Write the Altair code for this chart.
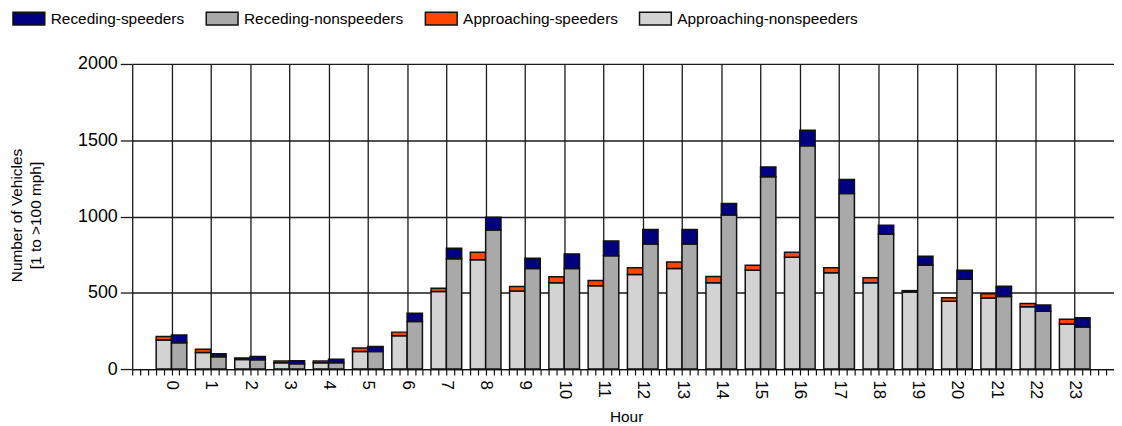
import altair as alt
import pandas as pd

# ---- data ----
hours = list(range(24))
approaching_nonspeeders = [190, 109, 62, 41, 41, 115, 219, 509, 716, 511, 566, 546,
                           620, 659, 565, 648, 733, 631, 565, 505, 445, 465, 408, 296]
approaching_speeders = [23, 21, 10, 11, 11, 23, 23, 21, 50, 30, 39, 35,
                        44, 42, 42, 33, 33, 33, 33, 9, 22, 28, 22, 31]
receding_nonspeeders = [173, 80, 61, 34, 41, 115, 312, 723, 912, 659, 659, 742,
                        819, 819, 1010, 1261, 1463, 1150, 884, 681, 588, 476, 378, 276]
receding_speeders = [50, 21, 21, 21, 23, 33, 53, 69, 83, 68, 96, 98,
                     96, 96, 76, 64, 102, 92, 59, 59, 59, 66, 42, 61]

series_names = ["Receding-speeders", "Receding-nonspeeders",
                "Approaching-speeders", "Approaching-nonspeeders"]
series_colors = ["#000080", "#A9A9A9", "#FF4500", "#D3D3D3"]

y_ticks = [0, 500, 1000, 1500, 2000]
x_ticks = [round(-1 + 0.2 * i, 1) for i in range(126)]

rows = []
for i, h in enumerate(hours):
    rows.append({"hour": h, "direction": "Approaching", "series": "Approaching-nonspeeders",
                 "order": 0, "value": approaching_nonspeeders[i]})
    rows.append({"hour": h, "direction": "Approaching", "series": "Approaching-speeders",
                 "order": 1, "value": approaching_speeders[i]})
    rows.append({"hour": h, "direction": "Receding", "series": "Receding-nonspeeders",
                 "order": 0, "value": receding_nonspeeders[i]})
    rows.append({"hour": h, "direction": "Receding", "series": "Receding-speeders",
                 "order": 1, "value": receding_speeders[i]})
df = pd.DataFrame(rows)

FONT = "Liberation Sans"

chart = (
    alt.Chart(df)
    .transform_stack(stack="value", groupby=["hour", "direction"], as_=["y0", "y1"],
                     sort=[alt.SortField("order", order="ascending")])
    .transform_calculate(
        xs="datum.direction === 'Approaching' ? datum.hour - 0.39 : datum.hour",
        xe="datum.direction === 'Approaching' ? datum.hour : datum.hour + 0.39",
    )
    .mark_bar(stroke="#111111", strokeWidth=1.5)
    .encode(
        x=alt.X(
            "xs:Q",
            scale=alt.Scale(domain=[-1, 24], nice=False, zero=False),
            axis=alt.Axis(
                values=x_ticks,
                title="Hour",
                titleFont=FONT, titleFontSize=15.5, titleFontWeight="normal", titleColor="#000",
                titleX=497, titleY=53, titleBaseline="alphabetic", titleAlign="center",
                labelExpr="(datum.value % 1 === 0 && datum.value >= 0 && datum.value <= 23) ? format(datum.value, 'd') : ''",
                labelAngle=90, labelFont=FONT, labelFontSize=17, labelColor="#000",
                labelPadding=5, labelOverlap=False, labelFlush=False, labelBound=False,
                tickSize=6, tickColor="#111", tickWidth=1.2,
                domain=True, domainColor="#111", domainWidth=1.2,
                grid=True, gridColor="#1a1a1a", gridWidth=1.3,
                gridOpacity={"condition": {"test": "datum.value % 1 === 0 && datum.value < 23.5", "value": 1}, "value": 0},
            ),
        ),
        x2="xe:Q",
        y=alt.Y(
            "y0:Q",
            scale=alt.Scale(domain=[0, 2000], nice=False),
            axis=alt.Axis(
                values=y_ticks, format="d",
                title=["Number of Vehicles", "[1 to >100 mph]"],
                titleFont=FONT, titleFontSize=15.5, titleFontWeight="normal", titleColor="#000",
                titleAngle=270, titleX=-116, titleY=152, titleAlign="center", titleBaseline="middle",
                titleLineHeight=19,
                labelFont=FONT, labelFontSize=18, labelColor="#000", labelPadding=3,
                tickSize=12, tickColor="#1a1a1a", tickWidth=1.3,
                domain=False,
                grid=True, gridColor="#1a1a1a", gridWidth=1.3,
            ),
        ),
        y2="y1:Q",
        fill=alt.Fill(
            "series:N",
            scale=alt.Scale(domain=series_names, range=series_colors),
            legend=alt.Legend(
                title=None, orient="none", direction="horizontal",
                legendX=-121, legendY=-63, padding=0,
                symbolType="M-1,-0.4H1V0.4H-1Z", symbolSize=1024,
                symbolStrokeColor="#111", symbolStrokeWidth=1.5, symbolOpacity=1,
                labelFont=FONT, labelFontSize=15.5, labelColor="#000",
                labelOffset=5, columnPadding=18.5, labelLimit=400,
            ),
        ),
    )
    .properties(
        width=988, height=307,
        autosize=alt.AutoSizeParams(type="none"),
        padding={"left": 125, "top": 55, "right": 0, "bottom": 56},
        background="white",
    )
    .configure_view(stroke=None)
)

chart.save("out.html", embed_options={"renderer": "svg", "actions": False})
